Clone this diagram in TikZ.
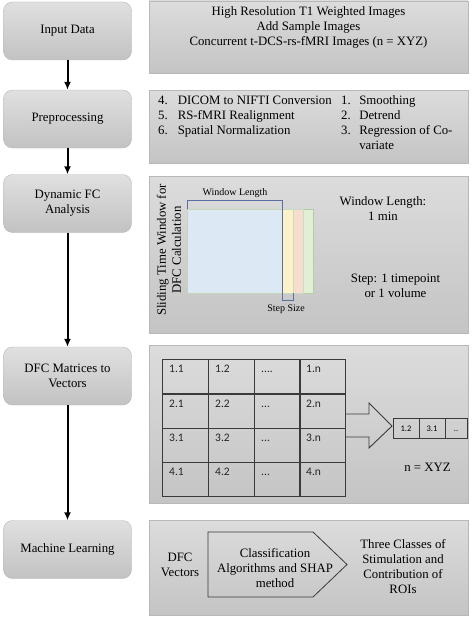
\documentclass[tikz,border=0pt]{standalone}
\usepackage{fontspec}
\setmainfont{Liberation Serif}
\newfontfamily\carlitofont{Carlito}
\usetikzlibrary{arrows.meta,shadings}
\newcommand\mydotsfor[1]{\ifnum#1=1 ....\else ...\fi}
\newcommand\mytwodots{..}
\definecolor{lbtop}{HTML}{E0E0E0}
\definecolor{lbbot}{HTML}{C2C2C2}
\definecolor{rbtop}{HTML}{DCDCDC}
\definecolor{rbbot}{HTML}{C4C4C4}
\definecolor{edge}{HTML}{B8B8B8}
\definecolor{gridc}{HTML}{3A3A3A}
\definecolor{wblue}{HTML}{DCE8F4}
\definecolor{wyel}{HTML}{FCF2C9}
\definecolor{wpink}{HTML}{F7DDD0}
\definecolor{wgreen}{HTML}{E2EED6}
\definecolor{wgedge}{HTML}{B3CDA2}
\definecolor{wbedge}{HTML}{5B6FA6}
\tikzset{
  leftbox/.style={rounded corners=9pt, top color=lbtop, bottom color=lbbot, draw=edge, line width=0.4pt,
    minimum width=128pt, minimum height=58pt, align=center, font=\fontsize{12.8}{15}\selectfont, inner sep=0pt},
  rightbox/.style={top color=rbtop, bottom color=rbbot, draw=edge, line width=0.4pt},
  flow/.style={line width=2pt, -{Latex[length=8pt,width=7pt]}},
  txt/.style={font=\fontsize{12.8}{15}\selectfont, align=center, inner sep=0pt},
  small/.style={font=\fontsize{10}{12}\selectfont, inner sep=0pt},
  celltxt/.style={font=\carlitofont\fontsize{11.5}{13}\selectfont, anchor=base west, inner sep=0pt, text=black!85},
  gridline/.style={draw=gridc, line width=0.9pt},
}
\begin{document}
\begin{tikzpicture}[x=1pt,y=-1pt]
\useasboundingbox (0,0) rectangle (474,618);
\fill[white] (0,0) rectangle (474,618);

% left column
\node[leftbox] (n1) at (67.5,31) {Input Data};
\node[leftbox] (n2) at (67.5,119) {Preprocessing};
\node[leftbox] (n3) at (67.5,203.5) {Dynamic FC\\Analysis};
\node[leftbox] (n4) at (67.5,376) {DFC Matrices to\\Vectors};
\node[leftbox] (n5) at (67.5,549.5) {Machine Learning};
\draw[flow] (n1) -- (n2);
\draw[flow] (n2) -- (n3);
\draw[flow] (n3) -- (n4);
\draw[flow] (n4) -- (n5);

% right boxes
\path[rightbox] (149,1) rectangle (468,73);
\path[rightbox] (149,90) rectangle (468,163);
\path[rightbox] (149,176) rectangle (468,333);
\path[rightbox] (149,345) rectangle (468,503);
\path[rightbox] (149,520) rectangle (468,615);

% box 1
\node[txt] (b1) at (308.5,27.5) {High Resolution T1 Weighted Images\\Add Sample Images\\Concurrent t-DCS-rs-fMRI Images (n = XYZ)};

% box 2
\node[txt, anchor=base west] (b2l) at (158,104.5) {\begin{tabular}[t]{@{}l@{\hspace{10pt}}l@{}}
4. & DICOM to NIFTI Conversion\\
5. & RS-fMRI Realignment\\
6. & Spatial Normalization
\end{tabular}};
\node[txt, anchor=base west] (b2r) at (341,104.5) {\begin{tabular}[t]{@{}l@{\hspace{8.5pt}}l@{}}
1. & Smoothing\\
2. & Detrend\\
3. & Regression of Co-\\
   & variate
\end{tabular}};

% box 3 : sliding window
\node[txt, rotate=90] (slide) at (169,250) {Sliding Time Window for\\DFC Calculation};
\filldraw[fill=wgreen, draw=wgedge, line width=0.5pt] (187,209) rectangle (313,293);
\filldraw[fill=wpink, draw=wgedge!70, line width=0.4pt] (187,209) rectangle (303,293);
\filldraw[fill=wyel, draw=wgedge!70, line width=0.4pt] (187,209) rectangle (293,293);
\filldraw[fill=wblue, draw=wgedge!80, line width=0.4pt] (187,209) rectangle (282,293);
\draw[wbedge, line width=0.6pt] (187,209) -- (187,200) -- (282,200) -- (282,300) -- (293,300) -- (293,293);
\node[small] (wl) at (235,193) {Window Length};
\node[small] (ss) at (286,309.5) {Step Size};
\node[txt] (wlen) at (383,209) {Window Length:\\1 min};
\node[txt] (step) at (395.5,285.5) {Step: 1 timepoint\\or 1 volume};

% box 4 : matrix
\foreach \r/\y in {1/359,2/394,3/428,4/462}{
  \foreach \c/\x/\t in {1/162/\r.1,2/208/\r.2,3/254/\mydotsfor{\r},4/299/\r.n}{
    \path[gridline] (\x,\y) rectangle ++(46,34);
    \node[celltxt] (m\r\c) at (\x+7,\y+13.5) {\t};
  }
}
\draw[gridline] (162,359) rectangle (345,496);
% big arrow
\draw[draw=gridc, line width=0.9pt] (345,414) -- (369,414) -- (369,403) -- (392,426) -- (369,448) -- (369,437) -- (345,437);
% vector
\foreach \i/\x/\w/\t in {1/393/26/1.2,2/419/26/3.1,3/445/22/\mytwodots}{
  \path[gridline] (\x,418) rectangle ++(\w,20);
  \node[font=\carlitofont\fontsize{8.5}{10}\selectfont, inner sep=0pt, anchor=base] (v\i) at (\x+\w/2,431) {\t};
}
\node[txt] (nxyz) at (427.5,467) {n = XYZ};

% box 5
\node[txt] (dfcv) at (180,565) {DFC\\Vectors};
\draw[draw=gridc, line width=0.8pt] (208,532) -- (313,532) -- (347,564.5) -- (313,597) -- (208,597) -- cycle;
\node[txt] (clf) at (275,568) {Classification\\Algorithms and SHAP\\method};
\node[txt] (res) at (403,566.5) {Three Classes of\\Stimulation and\\Contribution of\\ROIs};
\end{tikzpicture}
\end{document}
